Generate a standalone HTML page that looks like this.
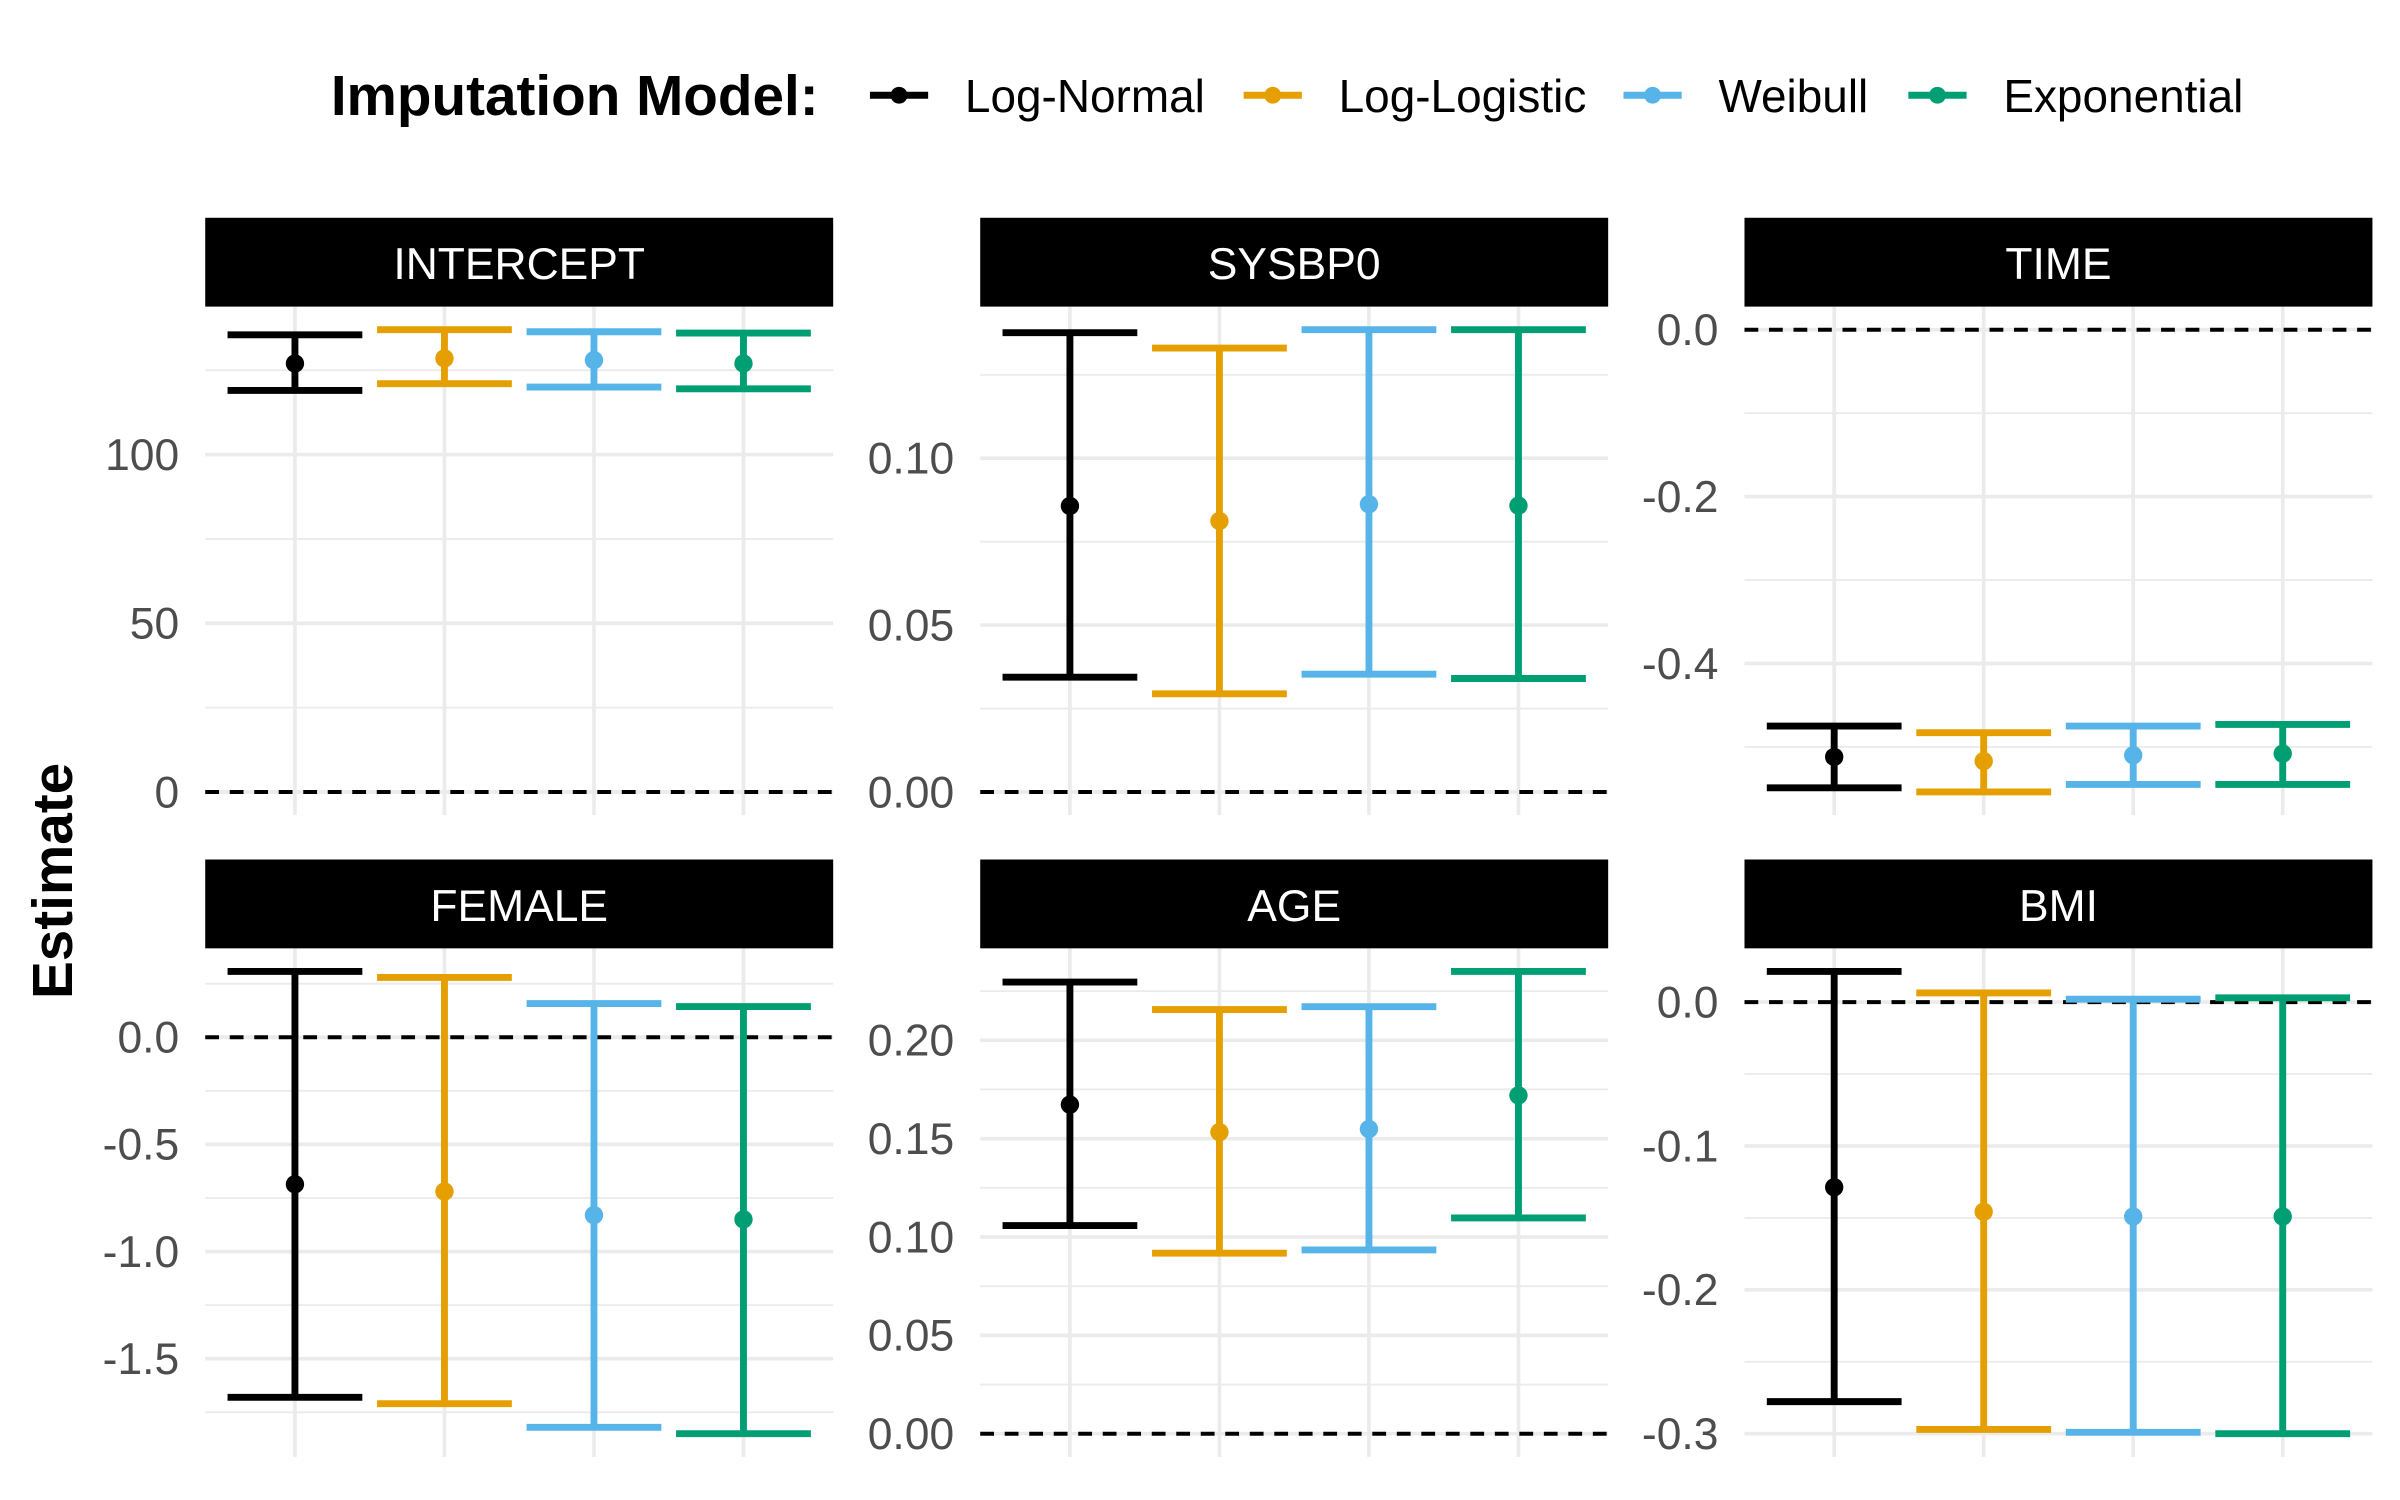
<!DOCTYPE html>
<html><head><meta charset="utf-8"><style>
html,body{margin:0;padding:0;background:#fff;}
svg{display:block;font-family:"Liberation Sans",sans-serif;}
</style></head><body>
<svg id="chart" width="2400" height="1500" viewBox="0 0 1567 979" xmlns="http://www.w3.org/2000/svg">
<rect width="1567" height="979" fill="#fff"/>
<g>
  <text x="216" y="75" font-size="37" font-weight="bold" fill="#000">Imputation Model:</text>
</g>
<text transform="translate(47,575) rotate(-90)" text-anchor="middle" font-size="37" font-weight="bold" fill="#000">Estimate</text>
<g id="panels"></g>
</svg>
<script>
const models = ["Log-Normal","Log-Logistic","Weibull","Exponential"];
const colors = ["#000000","#E69F00","#56B4E9","#009E73"];
const panelNames = ["INTERCEPT","SYSBP0","TIME","FEMALE","AGE","BMI"];
const estimates = [
  [127, 128.5, 128, 127],
  [0.0857, 0.0812, 0.0862, 0.0858],
  [-0.512, -0.517, -0.510, -0.508],
  [-0.686, -0.72, -0.83, -0.85],
  [0.1673, 0.1533, 0.1549, 0.172],
  [-0.1287, -0.1457, -0.149, -0.149]
];
const lowers = [
  [119, 121, 120, 119.5],
  [0.0344, 0.0294, 0.0353, 0.034],
  [-0.549, -0.554, -0.545, -0.545],
  [-1.68, -1.71, -1.82, -1.85],
  [0.1058, 0.0918, 0.0934, 0.1097],
  [-0.2777, -0.297, -0.299, -0.300]
];
const uppers = [
  [135.5, 137, 136.4, 136],
  [0.1376, 0.133, 0.1385, 0.1385],
  [-0.475, -0.483, -0.475, -0.473],
  [0.307, 0.279, 0.157, 0.143],
  [0.2296, 0.2156, 0.2171, 0.235],
  [0.0213, 0.0064, 0.002, 0.003]
];
const tickValues = [
  [0, 50, 100],
  [0, 0.05, 0.10],
  [0, -0.2, -0.4],
  [0, -0.5, -1.0, -1.5],
  [0, 0.05, 0.10, 0.15, 0.20],
  [0, -0.1, -0.2, -0.3]
];
const tickLabels = [
  ["0","50","100"],
  ["0.00","0.05","0.10"],
  ["0.0","-0.2","-0.4"],
  ["0.0","-0.5","-1.0","-1.5"],
  ["0.00","0.05","0.10","0.15","0.20"],
  ["0.0","-0.1","-0.2","-0.3"]
];

const NS = "http://www.w3.org/2000/svg";
function mk(tag, attrs, parent){
  const e = document.createElementNS(NS, tag);
  for (const k in attrs) e.setAttribute(k, attrs[k]);
  if (parent) parent.appendChild(e);
  return e;
}
const svg = document.getElementById("chart");
const root = document.getElementById("panels");

const legendKeyX = [568, 812, 1060, 1246];
models.forEach((m, i) => {
  const g = mk("g", {}, svg);
  
  
  mk("line", {x1: legendKeyX[i], x2: legendKeyX[i] + 38, y1: 62, y2: 62, stroke: colors[i], "stroke-width": 4.5}, g);
  mk("circle", {cx: legendKeyX[i] + 19, cy: 62, r: 5.5, fill: colors[i]}, g);
  const t = mk("text", {x: legendKeyX[i] + 62, y: 73, "font-size": 30, fill: "#000"}, g);
  t.textContent = m;
});

const colX = [134, 640, 1139];
const panelW = 410;
const rowStripY = [142, 561];
const stripH = 58;
const plotH = 332;

panelNames.forEach((name, p) => {
  const col = p % 3, row = Math.floor(p / 3);
  const left = colX[col];
  const top = rowStripY[row] + stripH;
  const bottom = top + plotH;
  const g = mk("g", {}, root);
  
  

  let lo = Math.min(0, ...lowers[p], ...estimates[p]);
  let hi = Math.max(0, ...uppers[p], ...estimates[p]);
  const span = hi - lo;
  lo -= span * 0.05; hi += span * 0.05;
  const yS = v => bottom - (v - lo) / (hi - lo) * plotH;
  const xS = i => left + (0.6 + i) * panelW / 4.2;

  const tv = tickValues[p];
  const step = Math.abs(tv[1] - tv[0]);
  const tmin = Math.min(...tv) - step, tmax = Math.max(...tv) + step;
  for (let v = tmin + step / 2; v <= tmax; v += step) {
    if (v > lo && v < hi) {
      const l = mk("line", {x1: left, x2: left + panelW, y1: yS(v), y2: yS(v), stroke: "#ebebeb", "stroke-width": 1.2}, g);
      
      
    }
  }
  tv.forEach((v, k) => {
    const l = mk("line", {x1: left, x2: left + panelW, y1: yS(v), y2: yS(v), stroke: "#ebebeb", "stroke-width": 2.4}, g);
    
    
    const t = mk("text", {x: left - 17, y: yS(v) + 10, "text-anchor": "end", "font-size": 29, fill: "#4d4d4d"}, g);
    
    
    t.textContent = tickLabels[p][k];
  });
  models.forEach((m, i) => {
    const l = mk("line", {x1: xS(i), x2: xS(i), y1: top, y2: bottom, stroke: "#ebebeb", "stroke-width": 2.4}, g);
    
    
  });
  const z = mk("line", {x1: left, x2: left + panelW, y1: yS(0), y2: yS(0), stroke: "#000", "stroke-width": 2.6, "stroke-dasharray": "9,7"}, g);
  
  

  const s = mk("rect", {x: left, y: rowStripY[row], width: panelW, height: stripH, fill: "#000"}, g);
  
  
  const st = mk("text", {x: left + panelW / 2, y: rowStripY[row] + 40, "text-anchor": "middle", "font-size": 29, fill: "#fff"}, g);
  
  
  st.textContent = name;

  models.forEach((m, i) => {
    const eg = mk("g", {stroke: colors[i], "stroke-width": 4.5, fill: colors[i]}, g);
    
    
    const cx = xS(i), hw = 44;
    mk("line", {x1: cx, x2: cx, y1: yS(lowers[p][i]), y2: yS(uppers[p][i])}, eg);
    mk("line", {x1: cx - hw, x2: cx + hw, y1: yS(lowers[p][i]), y2: yS(lowers[p][i])}, eg);
    mk("line", {x1: cx - hw, x2: cx + hw, y1: yS(uppers[p][i]), y2: yS(uppers[p][i])}, eg);
    const c = mk("circle", {cx: cx, cy: yS(estimates[p][i]), r: 6, stroke: "none"}, eg);
    
    
  });
});
</script>
</body></html>
